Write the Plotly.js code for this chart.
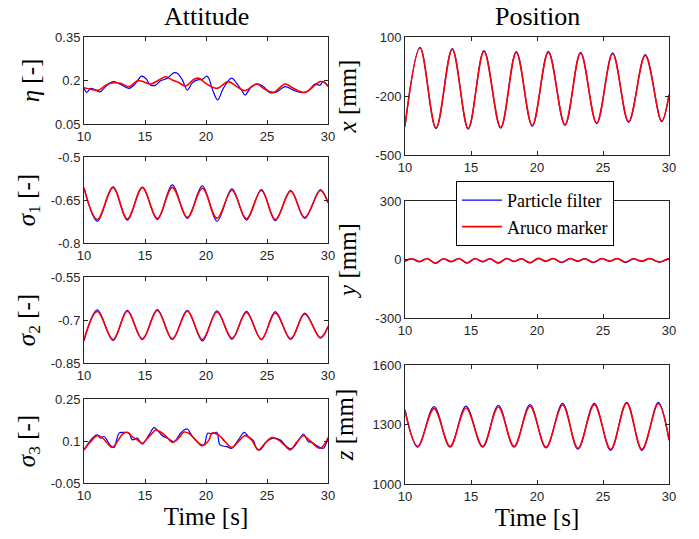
<!DOCTYPE html>
<html><head><meta charset="utf-8">
<script src="https://cdn.plot.ly/plotly-3.0.1.min.js"></script>
<style>html,body{margin:0;padding:0;background:#fff}</style>
</head><body><div id="plot" style="width:699px;height:539px"></div>
<script>
// ---- data ----
const tEtaRed = [10,10.55,11.23,11.78,12.46,13.0,13.69,14.37,14.78,15.46,16.15,16.69,17.24,17.79,18.33,19.02,19.43,19.92,20.88,21.83,22.51,23.2,24.16,24.7,25.52,26.48,27.16,28.11,28.93,29.34,29.75,30];
const etaRed  = [0.175,0.170,0.167,0.184,0.192,0.190,0.179,0.199,0.197,0.188,0.202,0.213,0.202,0.192,0.181,0.204,0.208,0.192,0.173,0.196,0.179,0.165,0.188,0.173,0.159,0.188,0.173,0.159,0.184,0.196,0.192,0.179];
const tEtaBlue = [10,10.22,10.55,10.96,11.31,11.64,12.05,12.46,13.0,13.69,14.23,14.7,15.05,15.46,15.87,16.28,16.83,17.38,17.65,18.06,18.47,18.88,19.3,19.7,20.06,20.2,20.6,20.96,21.42,22.1,22.51,22.92,23.2,23.74,24.29,24.7,25.25,25.79,26.48,27.16,27.84,28.39,28.93,29.34,29.61,30];
const etaBlue  = [0.175,0.159,0.173,0.167,0.161,0.173,0.190,0.196,0.186,0.173,0.190,0.215,0.208,0.184,0.184,0.199,0.208,0.227,0.225,0.202,0.167,0.192,0.202,0.204,0.215,0.210,0.161,0.133,0.173,0.208,0.190,0.167,0.150,0.179,0.188,0.179,0.158,0.161,0.179,0.167,0.158,0.165,0.188,0.184,0.196,0.181];

const tSig = [10,11.09,12.38,13.55,14.78,16.01,17.24,18.47,19.70,20.9,22.13,23.31,24.54,25.68,26.94,28.09,29.37,30];
const sig1Red  = [-0.609,-0.718,-0.607,-0.716,-0.607,-0.714,-0.606,-0.710,-0.609,-0.714,-0.616,-0.716,-0.617,-0.718,-0.619,-0.711,-0.617,-0.660];
const sig1Blue = [-0.606,-0.724,-0.604,-0.720,-0.605,-0.718,-0.597,-0.714,-0.601,-0.724,-0.611,-0.720,-0.614,-0.722,-0.616,-0.714,-0.614,-0.659];
const sig2Red  = [-0.768,-0.670,-0.768,-0.669,-0.766,-0.667,-0.766,-0.669,-0.768,-0.672,-0.764,-0.674,-0.767,-0.675,-0.766,-0.679,-0.761,-0.722];
const sig2Blue = [-0.773,-0.665,-0.771,-0.666,-0.768,-0.664,-0.768,-0.666,-0.773,-0.668,-0.767,-0.670,-0.769,-0.671,-0.768,-0.676,-0.763,-0.724];

const tSig3Red = [10,10.55,11.09,11.5,11.91,12.32,12.73,13.14,13.55,13.96,14.37,14.78,15.19,15.6,15.87,16.28,16.83,17.24,17.79,18.2,18.61,19.15,19.7,20.25,20.47,21.01,21.56,22.1,22.65,23.2,23.74,24.29,24.84,25.38,25.93,26.48,26.89,27.43,27.98,28.52,29.35,30];
const sig3Red  = [0.068,0.098,0.119,0.112,0.092,0.077,0.098,0.124,0.131,0.115,0.104,0.092,0.109,0.128,0.139,0.132,0.112,0.095,0.112,0.132,0.127,0.104,0.083,0.104,0.128,0.122,0.098,0.077,0.098,0.119,0.104,0.068,0.092,0.112,0.104,0.083,0.068,0.095,0.119,0.101,0.074,0.110];
const tSig3Blue = [10,10.68,11.09,11.37,11.64,12.19,12.46,12.87,13.14,13.69,13.96,14.37,14.78,15.33,15.74,16.01,16.42,16.97,17.38,17.92,18.2,18.47,18.88,19.43,19.84,20.14,20.47,20.88,21.15,21.7,22.1,22.65,23.14,23.47,23.88,24.15,24.43,24.97,25.52,26.07,26.61,27.02,27.71,27.98,28.39,28.66,29.21,29.62,30];
const sig3Blue  = [0.068,0.110,0.122,0.110,0.116,0.083,0.077,0.128,0.131,0.128,0.104,0.110,0.089,0.122,0.148,0.139,0.119,0.107,0.098,0.128,0.139,0.143,0.116,0.092,0.086,0.128,0.125,0.131,0.086,0.080,0.074,0.104,0.131,0.116,0.101,0.074,0.068,0.098,0.110,0.104,0.080,0.072,0.110,0.125,0.098,0.095,0.080,0.074,0.113];

const tX = [10,11.14,12.35,13.58,14.79,15.98,17.25,18.43,19.64,20.86,22.12,23.3,24.52,25.73,26.94,28.2,29.44,30];
const xRed  = [-350,44,-362,37,-364,27,-360,22,-350,22,-345,18,-337,15,-330,6,-327,-195];
const xBlue = [-356,48,-366,41,-368,31,-364,26,-354,27,-349,22,-341,19,-334,10,-331,-191];

const tY = [10,10.5,11.1,11.69,12.3,12.9,13.5,14.09,14.7,15.3,15.87,16.44,17.07,17.7,18.27,18.84,19.47,20.1,20.67,21.24,21.87,22.5,23.07,23.64,24.27,24.9,25.5,26.09,26.7,27.3,27.93,28.56,29.25,29.95,30];
const yRed  = [-8,4,-10,5,-18,4,-10,5,-17,5,-10,4,-17,5,-9,4,-16,6,-8,5,-14,5,-8,4,-14,5,-8,5,-13,4,-8,5,-12,3,2];
const yBlue = [-10,3,-12,4,-20,3,-12,4,-19,4,-12,3,-19,4,-11,3,-18,5,-10,4,-16,4,-10,3,-16,4,-10,4,-15,3,-10,4,-14,2,1];

const tZ = [10,10.96,12.2,13.41,14.62,15.88,17.07,18.26,19.47,20.68,21.94,23.1,24.34,25.58,26.79,27.95,29.19,30];
const zRed  = [1370,1190,1380,1190,1383,1190,1388,1190,1392,1186,1398,1180,1400,1175,1408,1175,1405,1225];
const zBlue = [1375,1186,1390,1186,1393,1186,1397,1186,1400,1182,1407,1176,1407,1170,1412,1170,1412,1220];

const yTicks = {
  eta: [0.05,0.2,0.35], sig1: [-0.8,-0.65,-0.5], sig2: [-0.85,-0.7,-0.55], sig3: [-0.05,0.1,0.25],
  x: [-500,-200,100], y: [-300,0,300], z: [1000,1300,1600]
};
const xTicks = [10,15,20,25,30];

// ---- styling ----
const BLUE = '#0000ff', RED = '#ff0000';
const serif = 'Liberation Serif';
const sans = 'Liberation Sans';

function tr(x, y, ax, color, name, show) {
  return {x: x, y: y, type: 'scatter', mode: 'lines', name: name,
    xaxis: 'x' + ax, yaxis: 'y' + ax, showlegend: !!show,
    line: {color: color, width: color === RED ? 1.6 : 1.2, shape: 'spline', smoothing: 1}};
}

const data = [
  tr(tEtaBlue, etaBlue, '', BLUE, 'Particle filter'),
  tr(tEtaRed, etaRed, '', RED, 'Aruco marker'),
  tr(tSig, sig1Blue, '2', BLUE, 'Particle filter'),
  tr(tSig, sig1Red, '2', RED, 'Aruco marker'),
  tr(tSig, sig2Blue, '3', BLUE, 'Particle filter'),
  tr(tSig, sig2Red, '3', RED, 'Aruco marker'),
  tr(tSig3Blue, sig3Blue, '4', BLUE, 'Particle filter'),
  tr(tSig3Red, sig3Red, '4', RED, 'Aruco marker'),
  tr(tX, xBlue, '5', BLUE, 'Particle filter', true),
  tr(tX, xRed, '5', RED, 'Aruco marker', true),
  tr(tY, yBlue, '6', BLUE, 'Particle filter'),
  tr(tY, yRed, '6', RED, 'Aruco marker'),
  tr(tZ, zBlue, '7', BLUE, 'Particle filter'),
  tr(tZ, zRed, '7', RED, 'Aruco marker')
];

const W = 699, H = 539;
function dx(a, b) { return [a / W, b / W]; }
function dy(top, bot) { return [1 - bot / H, 1 - top / H]; }

function xa(dom, anchor, title) {
  const o = {domain: dom, anchor: anchor, range: [10, 30], tickvals: xTicks, ticktext: xTicks.map(String),
    ticks: 'inside', ticklen: 4, tickcolor: '#262626', showline: true, linecolor: '#262626', linewidth: 1,
    mirror: 'ticks', showgrid: false, zeroline: false, tickfont: {family: sans, size: 13, color: '#262626'}};
  if (title) o.title = {text: title, font: {family: serif, size: 25, color: '#000'}, standoff: 2};
  return o;
}
function ya(dom, anchor, tv, title, standoff) {
  return {domain: dom, anchor: anchor, range: [tv[0], tv[2]], tickvals: tv, ticktext: tv.map(String),
    ticks: 'inside', ticklen: 4, tickcolor: '#262626', showline: true, linecolor: '#262626', linewidth: 1,
    mirror: 'ticks', showgrid: false, zeroline: false, tickfont: {family: sans, size: 13, color: '#262626'},
    title: {text: title, font: {family: serif, size: 25, color: '#000'}, standoff: standoff}};
}

const L = dx(84, 328), R = dx(405, 669);
const layout = {
  width: W, height: H, margin: {l: 0, r: 0, t: 0, b: 0}, paper_bgcolor: '#fff', plot_bgcolor: '#fff',
  showlegend: true,
  legend: {x: 456 / W, y: 1 - 181 / H, xanchor: 'left', yanchor: 'top', bgcolor: '#fff', bordercolor: '#000', borderwidth: 1,
    font: {family: serif, size: 18, color: '#000'}, tracegroupgap: 0, itemwidth: 40},
  xaxis: xa(L, 'y'), yaxis: ya(dy(37, 124), 'x', yTicks.eta, '<i>η</i> [-]', 8),
  xaxis2: xa(L, 'y2'), yaxis2: ya(dy(157, 243), 'x2', yTicks.sig1, '<i>σ</i><sub>1</sub> [-]', 8),
  xaxis3: xa(L, 'y3'), yaxis3: ya(dy(277, 363), 'x3', yTicks.sig2, '<i>σ</i><sub>2</sub> [-]', 8),
  xaxis4: xa(L, 'y4', 'Time [s]'), yaxis4: ya(dy(399, 483), 'x4', yTicks.sig3, '<i>σ</i><sub>3</sub> [-]', 8),
  xaxis5: xa(R, 'y5'), yaxis5: ya(dy(37, 155), 'x5', yTicks.x, '<i>x</i> [mm]', 11),
  xaxis6: xa(R, 'y6'), yaxis6: ya(dy(201, 318), 'x6', yTicks.y, '<i>y</i> [mm]', 11),
  xaxis7: xa(R, 'y7', 'Time [s]'), yaxis7: ya(dy(365, 484), 'x7', yTicks.z, '<i>z</i> [mm]', 11),
  annotations: [
    {text: 'Attitude', x: (L[0] + L[1]) / 2, y: 1 - 17 / H, xref: 'paper', yref: 'paper', showarrow: false,
     xanchor: 'center', yanchor: 'middle', font: {family: serif, size: 26, color: '#000'}},
    {text: 'Position', x: (R[0] + R[1]) / 2, y: 1 - 17 / H, xref: 'paper', yref: 'paper', showarrow: false,
     xanchor: 'center', yanchor: 'middle', font: {family: serif, size: 26, color: '#000'}}
  ]
};

Plotly.newPlot('plot', data, layout, {displayModeBar: false, staticPlot: true});
</script></body></html>
